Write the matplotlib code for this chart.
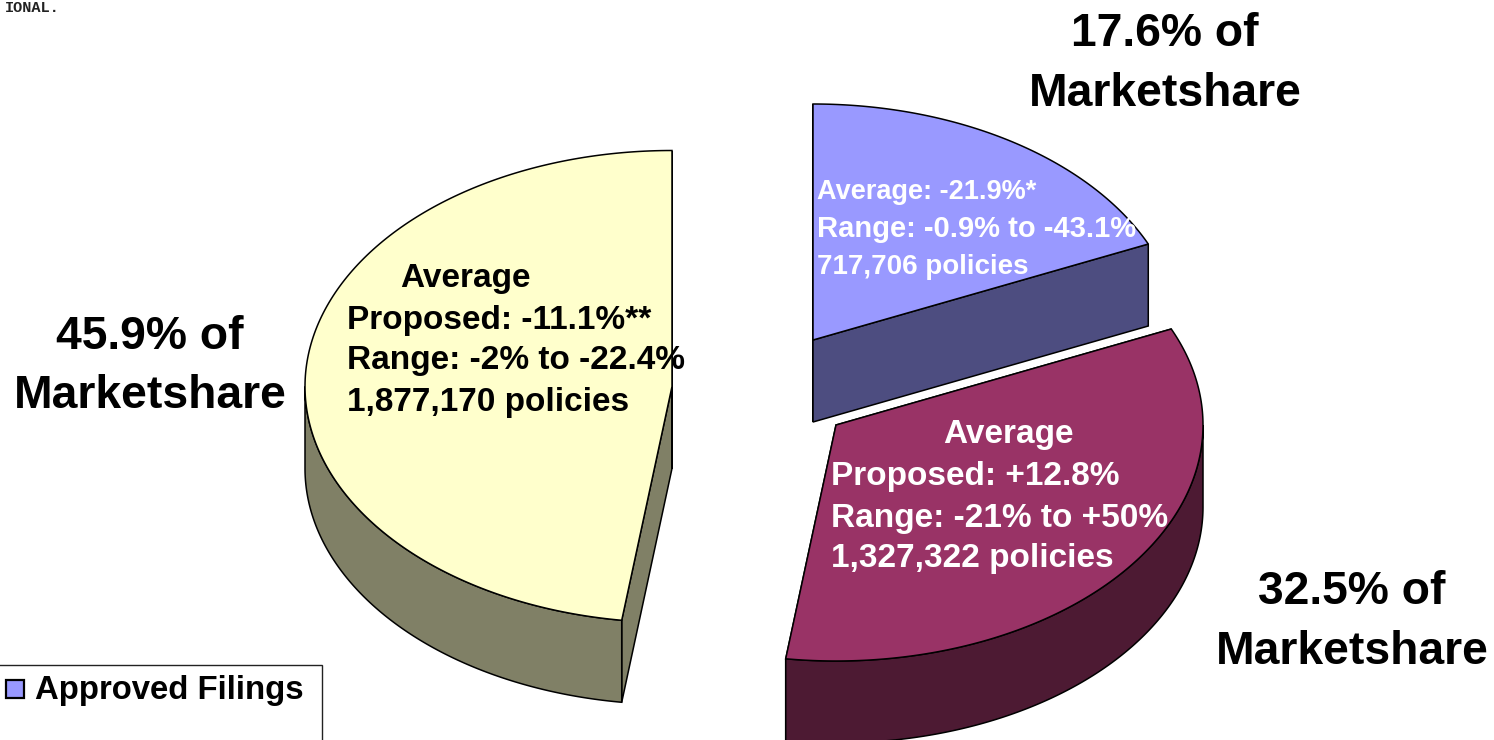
import numpy as np
import matplotlib
matplotlib.use("Agg")
import matplotlib.pyplot as plt
from matplotlib.patches import Polygon, Rectangle

plt.rcParams['font.family'] = ['Liberation Sans', 'DejaVu Sans']

# share of market per slice, the pie is normalised on their sum
shares = [17.6, 32.5, 45.9]
order = ['blue', 'red', 'yellow']
legend_label = 'Approved Filings'

tops = {'blue': '#9999ff', 'red': '#993366', 'yellow': '#ffffcc'}
sides = {'blue': '#4d4d80', 'red': '#4d1a33', 'yellow': '#808066'}
centers = {'blue': (813, 340), 'red': (836, 425), 'yellow': (672, 386.5)}

RX = 367
RY = 236
DEPTH = 82


def rim(cx, cy, a0, a1, n=200):
    # angles clockwise from 12 o'clock
    t = np.radians(np.linspace(a0, a1, n))
    return cx + RX * np.sin(t), cy - RY * np.cos(t)


fig = plt.figure(figsize=(14.94, 7.4), dpi=100)
ax = fig.add_axes([0, 0, 1, 1])
ax.set_xlim(0, 1494)
ax.set_ylim(740, 0)
ax.axis('off')

total = sum(shares)
angles = np.cumsum([0] + shares) / total * 360

for i, key in enumerate(order):
    a0, a1 = angles[i], angles[i + 1]
    cx, cy = centers[key]
    x, y = rim(cx, cy, a0, a1)

    # outer wall, only the part that faces the viewer
    lo, hi = max(a0, 90), min(a1, 270)
    if lo < hi:
        wx, wy = rim(cx, cy, lo, hi)
        ax.add_patch(Polygon(np.r_[np.c_[wx, wy], np.c_[wx, wy + DEPTH][::-1]],
                             fc=sides[key], ec='black', lw=1.1, zorder=2))
    # cut walls
    for a in (a0, a1):
        ex, ey = rim(cx, cy, a, a, 1)
        ax.add_patch(Polygon([(cx, cy), (ex[0], ey[0]), (ex[0], ey[0] + DEPTH), (cx, cy + DEPTH)],
                             fc=sides[key], ec='black', lw=1.1, zorder=1))
    ax.add_patch(Polygon(np.r_[[(cx, cy)], np.c_[x, y]], fc=tops[key], ec='black', lw=1.1, zorder=3))

big = dict(fontsize=33.3, fontweight='bold', ha='center', va='center', color='black', linespacing=1.47)
ax.text(1165, 64, '17.6% of\nMarketshare', **big)
ax.text(150, 366.5, '45.9% of\nMarketshare', **big)
ax.text(1352, 622, '32.5% of\nMarketshare', **big)

ax.text(465, 278, 'Average', fontsize=24, fontweight='bold', ha='center', va='center', zorder=5)
for y, s in zip([320, 361, 402], ['Proposed: -11.1%**', 'Range: -2% to -22.4%', '1,877,170 policies']):
    ax.text(347, y, s, fontsize=24, fontweight='bold', va='center', zorder=5)

ax.text(1008, 435, 'Average', fontsize=24, fontweight='bold', color='white', ha='center', va='center', zorder=5)
for y, s in zip([476, 518, 559], ['Proposed: +12.8%', 'Range: -21% to +50%', '1,327,322 policies']):
    ax.text(831, y, s, fontsize=24, fontweight='bold', color='white', va='center', zorder=5)

for y, s, fs in zip([192, 229, 267], ['Average: -21.9%*', 'Range: -0.9% to -43.1%', '717,706 policies'], [19.5, 21, 20]):
    ax.text(817, y, s, fontsize=fs, fontweight='bold', color='white', va='center', zorder=5)

# legend box runs off the page
ax.add_patch(Rectangle((-5, 665), 326.5, 90, fc='white', ec='#222222', lw=1.0, zorder=6))
ax.add_patch(Rectangle((6, 680), 18, 18, fc=tops['blue'], ec='black', lw=1.6, zorder=7))
ax.text(35, 690, legend_label, fontsize=23.7, fontweight='bold', va='center', zorder=7)

ax.text(5, 1, 'IONAL.', fontsize=11, family='Liberation Mono', fontweight='bold', va='top', color='#222222')

fig.savefig('out.png', dpi=100)
